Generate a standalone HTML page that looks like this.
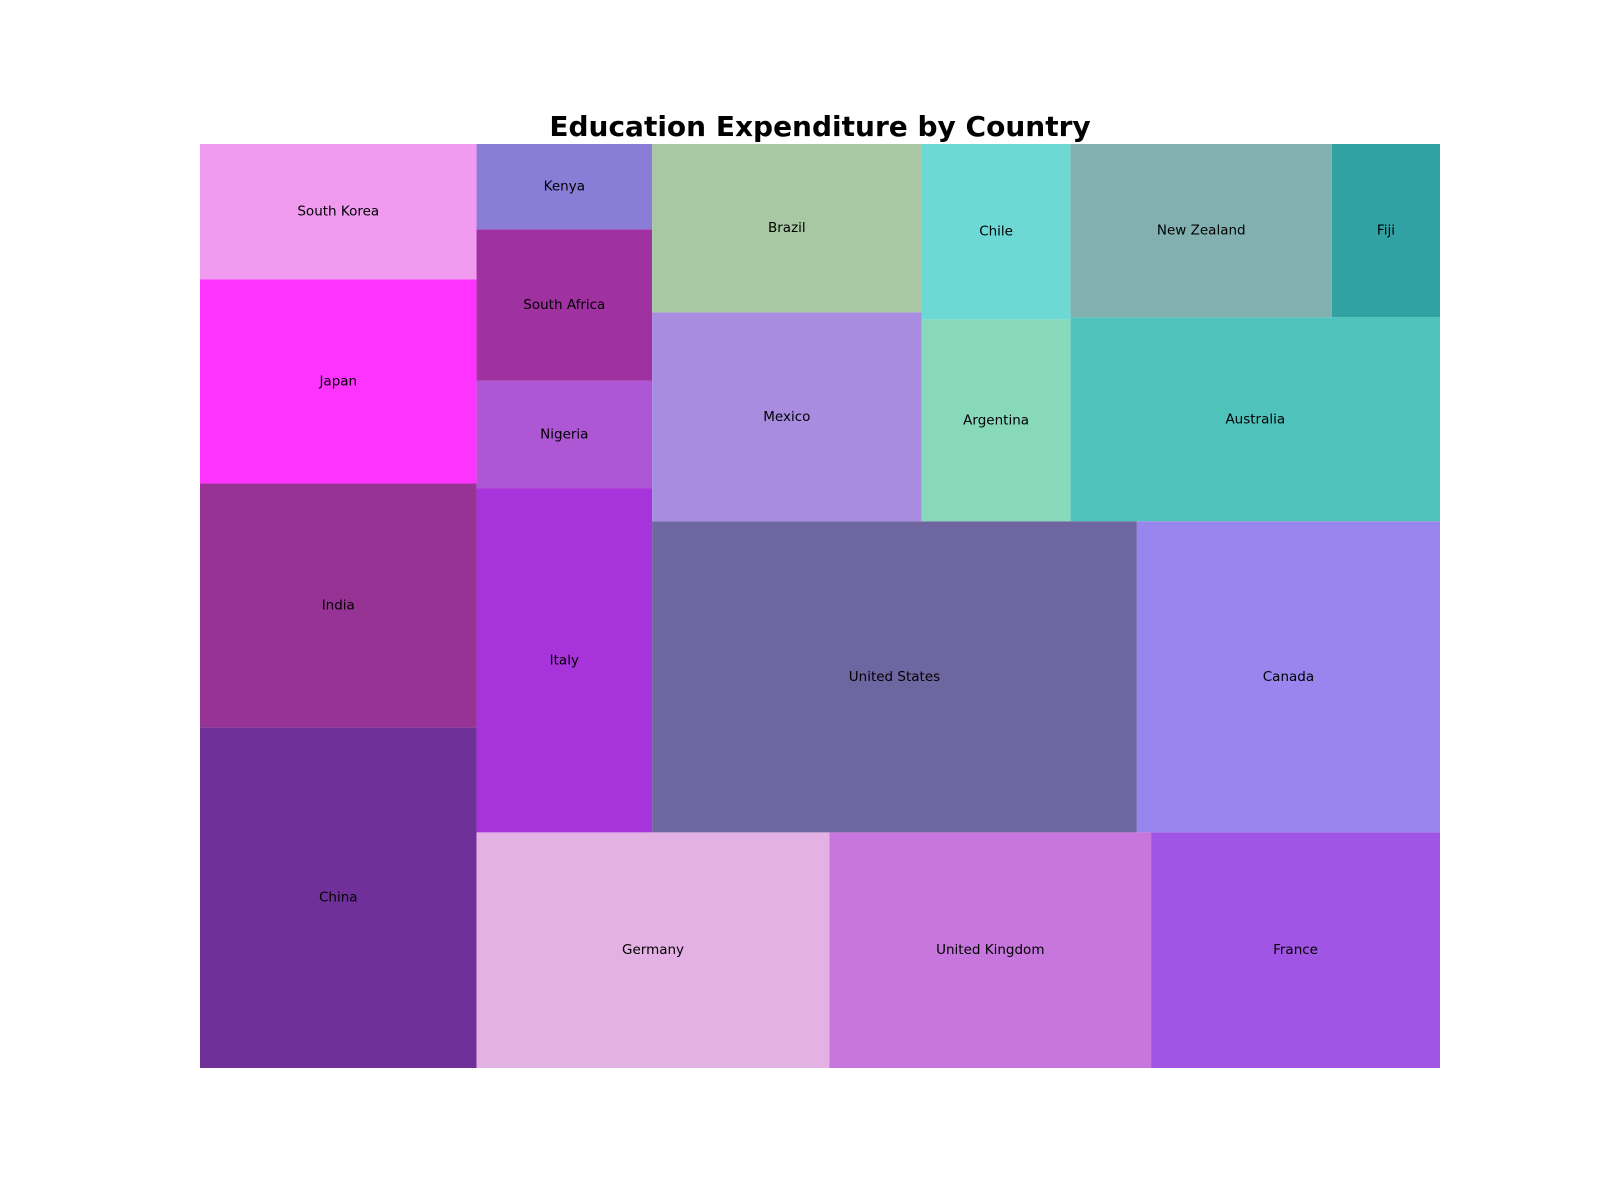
<!DOCTYPE html>
<html><head><meta charset="utf-8"><style>
html,body{margin:0;padding:0;background:#fff;}
svg{display:block;font-family:"DejaVu Sans","Liberation Sans",sans-serif;}
</style></head><body>
<svg id="chart" width="1600" height="1200" viewBox="0 0 1600 1200">
<rect x="0" y="0" width="1600" height="1200" fill="#fff"/>
<text x="820" y="136" text-anchor="middle" font-size="28" font-weight="bold" fill="#000">Education Expenditure by Country</text>
<g id="tiles"></g>
</svg>
<script>
const countries = ["China","India","Japan","South Korea","Germany","United Kingdom","France","Italy","Nigeria","South Africa","Kenya","United States","Canada","Mexico","Brazil","Argentina","Chile","Australia","New Zealand","Fiji"];
const values = [90.5,64.8,54.2,36.0,79.9,72.8,65.4,58.0,18.2,25.5,14.4,144.9,90.6,54.1,43.6,28.9,25.1,72.4,43.5,18.0];
const colors = ["#70309a","#983396","#ff33ff","#f09af0","#e3b1e3","#c676dc","#a055e4","#a733db","#ae57d4","#a031a0","#897dd8","#6e66a0","#9886ee","#a88ce0","#a8c8a4","#88d8bc","#6ed8d4","#4fc2bc","#82b0b0","#31a2a4"];
// strip structure: number of items per strip and stacking direction
const groupCounts = [4,3,4,2,2,2,1,2];
const groupDirs = ["v","h","v","h","v","v","h","h"];

const PX=200, PY=144, PW=1240, PH=924;
const total=values.reduce((a,b)=>a+b,0);
const norm=values.map(v=>v*PW*PH/total);
let x=0,y=0,dx=PW,dy=PH,idx=0;
const rects=[];
groupCounts.forEach((n,gi)=>{
  const s=norm.slice(idx,idx+n);idx+=n;
  const c=s.reduce((a,b)=>a+b,0);
  if(groupDirs[gi]==="v"){
    const w=c/dy;let yy=y;
    s.forEach(v=>{rects.push({x:x,y:yy,dx:w,dy:v/w});yy+=v/w;});
    x+=w;dx-=w;
  }else{
    const h=c/dx;let xx=x;
    s.forEach(v=>{rects.push({x:xx,y:y,dx:v/h,dy:h});xx+=v/h;});
    y+=h;dy-=h;
  }
});
const g=document.getElementById('tiles');
const NS="http://www.w3.org/2000/svg";
rects.forEach((r,i)=>{
  const px=PX+r.x, py=PY+(PH-r.y-r.dy);
  const rc=document.createElementNS(NS,'rect');
  rc.setAttribute('x',px);rc.setAttribute('y',py);rc.setAttribute('width',r.dx);rc.setAttribute('height',r.dy);
  rc.setAttribute('fill',colors[i]);
  
  
  g.appendChild(rc);
  const t=document.createElementNS(NS,'text');
  t.setAttribute('x',px+r.dx/2);t.setAttribute('y',py+r.dy/2);
  t.setAttribute('text-anchor','middle');t.setAttribute('dominant-baseline','central');
  t.setAttribute('font-size','13.5');t.setAttribute('fill','#000');
  t.textContent=countries[i];
  
  
  g.appendChild(t);
});
</script>
</body></html>
